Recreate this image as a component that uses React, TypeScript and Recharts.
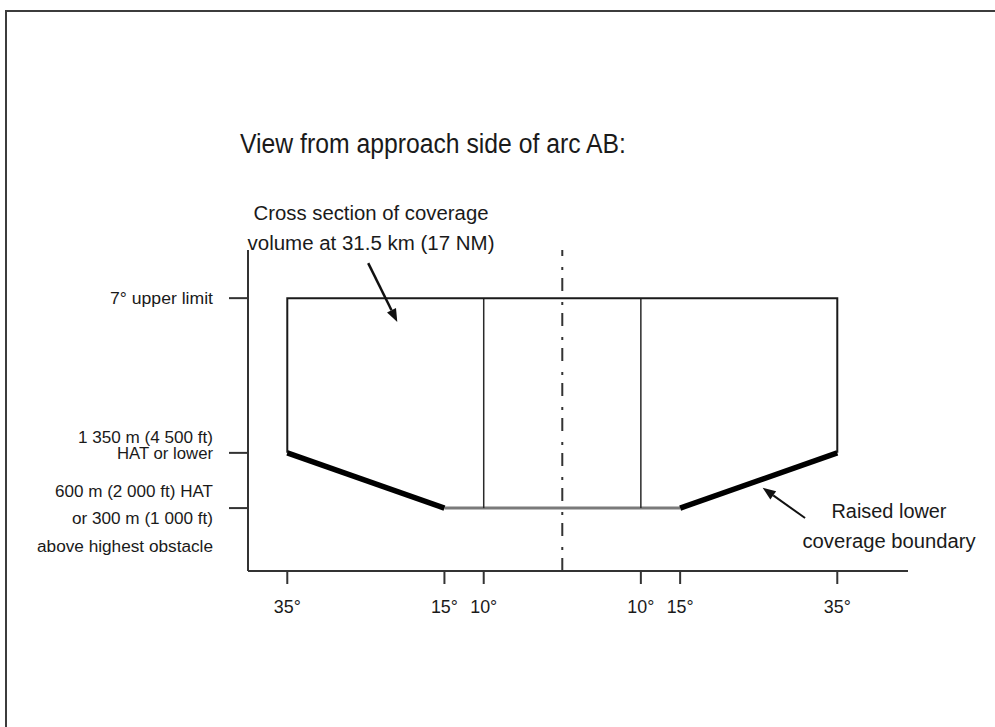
import React from "react";
import { ComposedChart, Line, XAxis, YAxis, ReferenceLine } from "recharts";

const FONT = "'Liberation Sans Narrow', 'Liberation Sans', Arial, sans-serif";

// angles (deg) across the arc, left side negative
const xTicks = [-35, -15, -10, 10, 15, 35];

// heights on an arbitrary 0-100 scale
const obstacleLevel = 19.6;
const hatLevel = 36.8;
const upperLimit = 85;
const levelValues = [obstacleLevel, hatLevel, upperLimit];
const levelLabels = [
  ["600 m (2 000 ft) HAT", "or 300 m (1 000 ft)", "above highest obstacle"],
  ["1 350 m (4 500 ft)", "HAT or lower"],
  ["7° upper limit"],
];

// coverage cross-section
const outlinePoints = [
  { x: -35, y: hatLevel },
  { x: -35, y: upperLimit },
  { x: 35, y: upperLimit },
  { x: 35, y: hatLevel },
];
const raisedLeft = [
  { x: -35, y: hatLevel },
  { x: -15, y: obstacleLevel },
];
const raisedRight = [
  { x: 15, y: obstacleLevel },
  { x: 35, y: hatLevel },
];
const floorPoints = [
  { x: -15, y: obstacleLevel },
  { x: 15, y: obstacleLevel },
];
const innerLeft = [
  { x: -10, y: obstacleLevel },
  { x: -10, y: upperLimit },
];
const innerRight = [
  { x: 10, y: obstacleLevel },
  { x: 10, y: upperLimit },
];

// callout arrows (tail -> tip)
const sectionArrow = [
  { x: -24.7, y: 95.9 },
  { x: -21.0, y: 77.6 },
];
const boundaryArrow = [
  { x: 30.9, y: 16.5 },
  { x: 25.5, y: 25.9 },
];

// widths used to squeeze the text to the condensed look of the original
const labelWidths: Record<string, number> = {
  "600 m (2 000 ft) HAT": 158,
  "or 300 m (1 000 ft)": 141,
  "above highest obstacle": 176,
  "1 350 m (4 500 ft)": 135,
  "HAT or lower": 96,
  "7° upper limit": 103,
};
const lineOffsets = [[-17, 10, 38], [-16, 0], [0]];

const YTick = (props: any) => {
  const { x, y, payload } = props;
  const idx = levelValues.indexOf(payload.value);
  const lines = levelLabels[idx] ?? [];
  return (
    <g>
      {lines.map((t, i) => (
        <text
          key={t}
          x={x - 14}
          y={y + lineOffsets[idx][i] + 6}
          textAnchor="end"
          fontSize={16}
          fontFamily={FONT}
          fill="#1a1a1a"
          textLength={labelWidths[t]}
          lengthAdjust="spacingAndGlyphs"
        >
          {t}
        </text>
      ))}
    </g>
  );
};

const XTick = (props: any) => {
  const { x, y, payload } = props;
  return (
    <text
      x={x}
      y={y + 27}
      textAnchor="middle"
      fontSize={19}
      fontFamily={FONT}
      fill="#1a1a1a"
      textLength={27}
      lengthAdjust="spacingAndGlyphs"
    >
      {Math.abs(payload.value)}°
    </text>
  );
};

const Arrow = (props: any) => {
  const { x1, y1, x2, y2, stroke, strokeWidth } = props;
  const a = Math.atan2(y2 - y1, x2 - x1);
  const len = 13;
  const half = 5;
  const bx = x2 - len * Math.cos(a);
  const by = y2 - len * Math.sin(a);
  const px = -Math.sin(a) * half;
  const py = Math.cos(a) * half;
  return (
    <g>
      <line x1={x1} y1={y1} x2={bx} y2={by} stroke={stroke} strokeWidth={strokeWidth} />
      <polygon points={`${x2},${y2} ${bx + px},${by + py} ${bx - px},${by - py}`} fill={stroke} />
    </g>
  );
};

export default function App() {
  return (
    <div style={{ position: "absolute", left: 0, top: 0, width: 995, height: 727, background: "#fff" }}>
      <div
        style={{
          position: "absolute",
          left: 5,
          top: 10,
          right: 0,
          bottom: 0,
          borderTop: "2px solid #3c3c3c",
          borderLeft: "2px solid #3c3c3c",
        }}
      />
      <ComposedChart width={995} height={727} margin={{ top: 250, right: 87, bottom: 116, left: 148 }}>
        <XAxis
          type="number"
          dataKey="x"
          domain={[-40, 44]}
          ticks={xTicks}
          allowDataOverflow
          height={40}
          tickSize={13}
          tick={<XTick />}
          axisLine={{ stroke: "#333", strokeWidth: 2 }}
          tickLine={{ stroke: "#333", strokeWidth: 2 }}
        />
        <YAxis
          type="number"
          dataKey="y"
          domain={[0, 100]}
          ticks={levelValues}
          allowDataOverflow
          width={100}
          tickSize={19}
          tick={<YTick />}
          axisLine={{ stroke: "#333", strokeWidth: 2 }}
          tickLine={{ stroke: "#333", strokeWidth: 2 }}
        />
        <ReferenceLine x={0} stroke="#333" strokeWidth={2} strokeDasharray="13 8 3 11" />
        <Line data={floorPoints} dataKey="y" type="linear" stroke="#7a7a7a" strokeWidth={3} dot={false} isAnimationActive={false} />
        <Line data={innerLeft} dataKey="y" type="linear" stroke="#2a2a2a" strokeWidth={1.5} dot={false} isAnimationActive={false} />
        <Line data={innerRight} dataKey="y" type="linear" stroke="#2a2a2a" strokeWidth={1.5} dot={false} isAnimationActive={false} />
        <Line data={outlinePoints} dataKey="y" type="linear" stroke="#1a1a1a" strokeWidth={2} dot={false} isAnimationActive={false} />
        <Line data={raisedLeft} dataKey="y" type="linear" stroke="#000" strokeWidth={5.5} dot={false} isAnimationActive={false} />
        <Line data={raisedRight} dataKey="y" type="linear" stroke="#000" strokeWidth={5.5} dot={false} isAnimationActive={false} />
        <ReferenceLine
          segment={sectionArrow}
          stroke="#111"
          strokeWidth={2.5}
          ifOverflow="visible"
          shape={(p: any) => <Arrow {...p} />}
        />
        <ReferenceLine
          segment={boundaryArrow}
          stroke="#111"
          strokeWidth={2}
          ifOverflow="visible"
          shape={(p: any) => <Arrow {...p} />}
        />
      </ComposedChart>
      <svg
        width={995}
        height={727}
        style={{ position: "absolute", left: 0, top: 0, pointerEvents: "none" }}
        fontFamily={FONT}
        fill="#1a1a1a"
      >
        <text x={240} y={153} fontSize={27} textLength={386} lengthAdjust="spacingAndGlyphs">
          View from approach side of arc AB:
        </text>
        <text x={371} y={220} fontSize={20} textAnchor="middle" textLength={235} lengthAdjust="spacingAndGlyphs">
          Cross section of coverage
        </text>
        <text x={371} y={250} fontSize={20} textAnchor="middle" textLength={247} lengthAdjust="spacingAndGlyphs">
          volume at 31.5 km (17 NM)
        </text>
        <text x={889} y={518} fontSize={20} textAnchor="middle" textLength={115} lengthAdjust="spacingAndGlyphs">
          Raised lower
        </text>
        <text x={889} y={548} fontSize={20} textAnchor="middle" textLength={173} lengthAdjust="spacingAndGlyphs">
          coverage boundary
        </text>
      </svg>
    </div>
  );
}
